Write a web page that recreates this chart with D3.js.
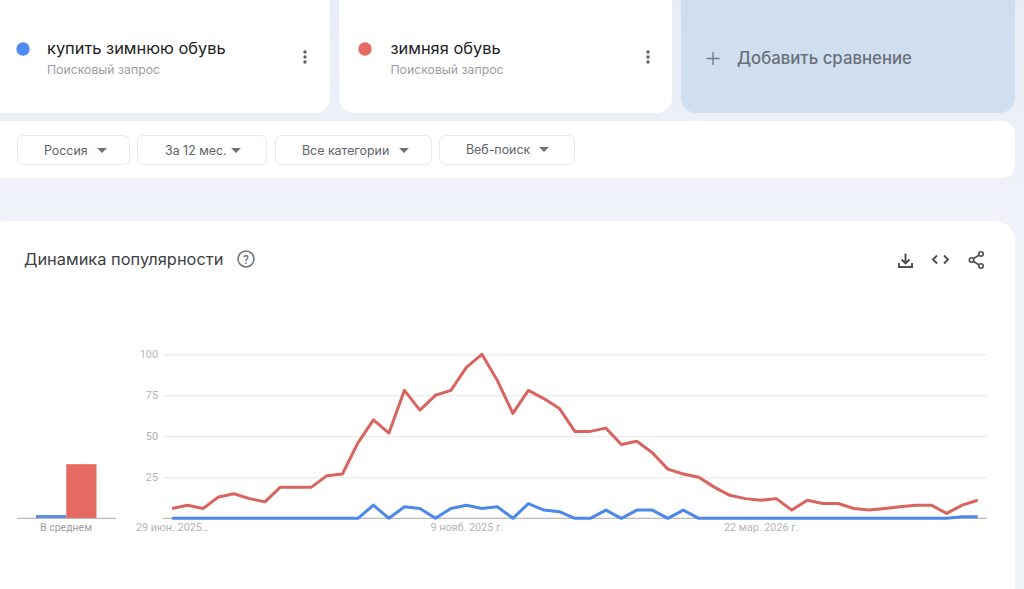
<!DOCTYPE html>
<html lang="ru">
<head>
<meta charset="utf-8">
<title>Динамика популярности</title>
<script src="https://cdn.jsdelivr.net/npm/d3@7/dist/d3.min.js"></script>
<style>
html,body{margin:0;padding:0;width:1024px;height:589px;overflow:hidden;background:#f1f3fa}
svg{display:block}
.axis path.domain{display:none}
.axis text{font-family:Roboto,sans-serif;fill:#b4b4b4;font-size:10.8px}
</style>
</head>
<body>
<div id="chart"></div>
<script>
// --- data ---
const seriesNames = ["купить зимнюю обувь", "зимняя обувь"];
const blueValues = [0,0,0,0,0,0,0,0,0,0,0,0,0,8,0,7,6,0,6,8,6,7,0,9,5,4,0,0,5,0,5,5,0,5,0,0,0,0,0,0,0,0,0,0,0,0,0,0,0,0,0,1,1];
const redValues = [6,8,6,13,15,12,10,19,19,19,26,27,46,60,52,78,66,75,78,92,100,84,64,78,73,67,53,53,55,45,47,40,30,27,25,19,14,12,11,12,5,11,9,9,6,5,6,7,8,8,3,8,11];
const averages = [2, 33];
const averageLabel = "В среднем";
const yTicks = [25, 50, 75, 100];
const xTickDates = ["2025-06-29", "2025-11-09", "2026-03-22"];
const xTickLabels = ["29 июн. 2025…", "9 нояб. 2025 г.", "22 мар. 2026 г."];
const firstWeek = "2025-06-29";
const filterLabels = ["Россия", "За 12 мес.", "Все категории", "Веб-поиск"];
const subLabel = "Поисковый запрос";
const addLabel = "Добавить сравнение";
const chartTitle = "Динамика популярности";

// --- styles ---
const BLUE = "#4c88ea", RED = "#d9645f";
const BLUE_BAR = "#5a8fe0", RED_BAR = "#e66a62";
const UI_FONT = "Inter, Roboto, sans-serif";

const svg = d3.select("#chart").append("svg").attr("width", 1024).attr("height", 589);
const defs = svg.append("defs");
const bg = defs.append("linearGradient").attr("id", "bg").attr("x1", 0).attr("y1", 0).attr("x2", 0).attr("y2", 1);
bg.append("stop").attr("offset", 0).attr("stop-color", "#e8ecf6");
bg.append("stop").attr("offset", 1).attr("stop-color", "#f3f5fb");
svg.append("rect").attr("width", 1024).attr("height", 300).attr("fill", "url(#bg)");
svg.append("rect").attr("y", 221).attr("x", 1015).attr("width", 9).attr("height", 368).attr("fill", "#f1f3fa");

const card = (x, y, w, h, fill, r) => svg.append("rect")
  .attr("x", x).attr("y", y).attr("width", w).attr("height", h).attr("rx", r).attr("fill", fill);

// top cards
[{x:-14,w:344,cx:23,tx:47,dots:305,c:"#4f8bf5"},
 {x:339,w:333,cx:365,tx:390.5,dots:648,c:"#e66a62"}].forEach((d, i) => {
  card(d.x, -20, d.w, 133, "#fff", 15);
  svg.append("circle").attr("cx", d.cx).attr("cy", 49).attr("r", 6.7).attr("fill", d.c);
  svg.append("text").attr("x", d.tx).attr("y", 54).text(seriesNames[i])
    .attr("font-family", UI_FONT).attr("font-size", 16.4).attr("fill", "#202124");
  svg.append("text").attr("x", d.tx).attr("y", 74).text(subLabel)
    .attr("font-family", UI_FONT).attr("font-size", 12.25).attr("fill", "#9a9ea3");
  [-5, 0, 5].forEach(o => svg.append("circle").attr("cx", d.dots).attr("cy", 57 + o).attr("r", 1.7).attr("fill", "#5f6368"));
});

// add-comparison card
card(681, -20, 334, 133, "#cfdff0", 15);
svg.append("path").attr("d", "M706.5 58.5H719.5M713 52V65").attr("stroke", "#6f7680").attr("stroke-width", 1.3).attr("fill", "none");
svg.append("text").attr("x", 737).attr("y", 64).text(addLabel)
  .attr("font-family", UI_FONT).attr("font-size", 16.8).attr("font-weight", 500).attr("fill", "#6a7079");

// filter panel
card(-14, 121, 1029, 57, "#fff", 13);
const filterBoxes = [[17,113,44,97],[137,130,165,231],[275,157,302,399],[439,136,466,539]];
filterBoxes.forEach((b, i) => {
  svg.append("rect").attr("x", b[0] + .5).attr("y", 135.5).attr("width", b[1] - 1).attr("height", 29).attr("rx", 6)
    .attr("fill", "#fff").attr("stroke", "#e6e8ec");
  svg.append("text").attr("x", b[2]).attr("y", i === 3 ? 154 : 155).text(filterLabels[i])
    .attr("font-family", UI_FONT).attr("font-size", 12.4).attr("fill", "#5f6368");
  svg.append("path").attr("d", `M${b[3]} ${i === 3 ? 147 : 148}h10l-5 5z`).attr("fill", "#6f7276");
});

// chart card
card(-14, 221, 1029, 420, "#fff", 20);
svg.append("text").attr("x", 24).attr("y", 265).text(chartTitle)
  .attr("font-family", UI_FONT).attr("font-size", 16.4).attr("fill", "#3c4043");
svg.append("circle").attr("cx", 246).attr("cy", 259).attr("r", 8).attr("fill", "none").attr("stroke", "#70757a").attr("stroke-width", 1.6);
svg.append("text").attr("x", 246).attr("y", 263.5).attr("text-anchor", "middle").text("?")
  .attr("font-family", "Roboto, sans-serif").attr("font-size", 12).attr("font-weight", 500).attr("fill", "#70757a");

// toolbar icons
const ink = "#4a4d52";
svg.append("path").attr("d", "M905.5 253.5V263M901.5 259.5L905.5 263.5L909.5 259.5M899 263V267H912V263")
  .attr("fill", "none").attr("stroke", ink).attr("stroke-width", 1.9);
svg.append("path").attr("d", "M937 255.5L933 259.5L937 263.5M944 255.5L948 259.5L944 263.5")
  .attr("fill", "none").attr("stroke", ink).attr("stroke-width", 1.9);
svg.append("path").attr("d", "M981 254L971 260L981 266").attr("fill", "none").attr("stroke", ink).attr("stroke-width", 1.6);
[[981, 254], [971.5, 260], [981, 266]].forEach(p =>
  svg.append("circle").attr("cx", p[0]).attr("cy", p[1]).attr("r", 2.2).attr("fill", "#fff").attr("stroke", ink).attr("stroke-width", 1.6));

// --- scales ---
const parse = d3.utcParse("%Y-%m-%d");
const weeks = redValues.map((_, i) => d3.utcWeek.offset(parse(firstWeek), i));
const x = d3.scaleUtc().domain(d3.extent(weeks)).range([172, 977.7]);
const y = d3.scaleLinear().domain([0, 100]).range([518.3, 354.3]);

// grid + y labels
const yAxis = svg.append("g").attr("class", "axis").attr("transform", "translate(163,0)")
  .call(d3.axisLeft(y).tickValues(yTicks).tickSize(-824).tickPadding(5));
yAxis.selectAll("line").attr("stroke", "#e6e6e6");

// x labels
const xAxis = svg.append("g").attr("class", "axis").attr("transform", "translate(0,518.3)")
  .call(d3.axisBottom(x).tickValues(xTickDates.map(parse)).tickSize(0).tickPadding(5)
    .tickFormat((d, i) => xTickLabels[i]));
svg.append("line").attr("x1", 163).attr("x2", 987).attr("y1", 518.3).attr("y2", 518.3).attr("stroke", "#a9a9a9");

// lines
const line = d3.line().x((d, i) => x(weeks[i])).y(d => y(d));
[[blueValues, BLUE], [redValues, RED]].forEach(([vals, c]) =>
  svg.append("path").datum(vals).attr("d", line).attr("fill", "none").attr("stroke", c)
    .attr("stroke-width", 3).attr("stroke-linejoin", "round"));

// average bars
const xb = d3.scaleBand().domain(seriesNames).range([36, 96.5]);
svg.append("g").selectAll("rect").data(seriesNames).join("rect")
  .attr("x", d => xb(d)).attr("width", xb.bandwidth())
  .attr("y", (d, i) => y(averages[i])).attr("height", (d, i) => y(0) - y(averages[i]))
  .attr("fill", (d, i) => [BLUE_BAR, RED_BAR][i]);
svg.append("line").attr("x1", 17).attr("x2", 116).attr("y1", 518.3).attr("y2", 518.3).attr("stroke", "#a9a9a9");
svg.append("text").attr("x", 66).attr("y", 531).attr("text-anchor", "middle").text(averageLabel)
  .attr("font-family", "Roboto, sans-serif").attr("font-size", 10.5).attr("fill", "#9d9d9d");
</script>
</body>
</html>
